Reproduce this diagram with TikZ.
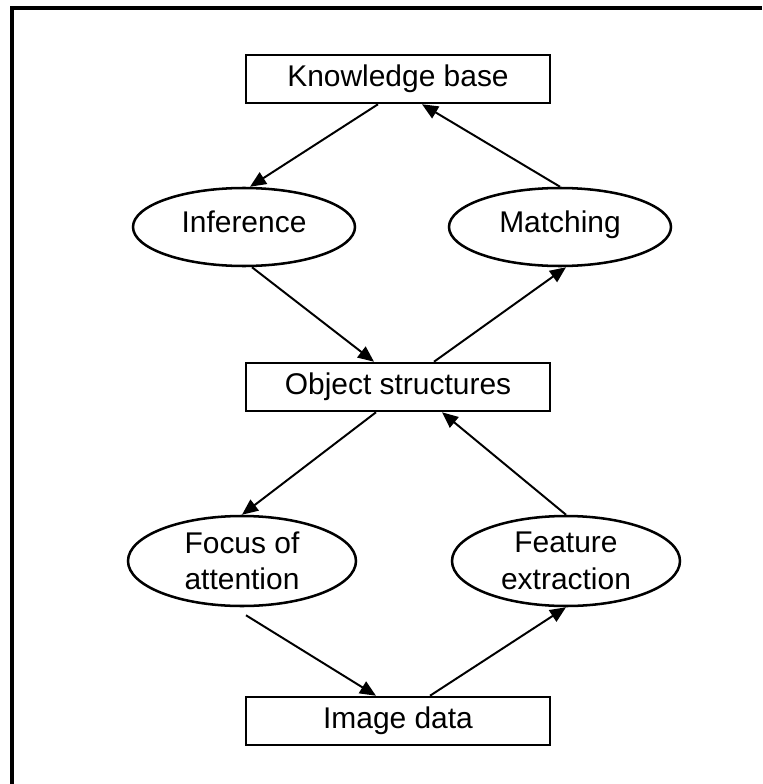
\documentclass[tikz,border=0pt]{standalone}
\usepackage{fontspec}
\setmainfont{Liberation Sans}
\usetikzlibrary{shapes.geometric,arrows.meta}

\tikzstyle{block}=[rectangle, minimum width = 7.6cm, minimum height = 1.2cm, text centered, draw=black, line width=1.8pt, fill=white, font=\fontsize{21.3}{26}\selectfont]
\tikzstyle{oval}=[ellipse, minimum width = 5.55cm, minimum height = 1.95cm, inner sep=0pt, align=center, draw=black, line width=1.8pt, fill=white, text height=1.5ex, text depth=.1ex, font=\fontsize{21.3}{26}\selectfont]
\tikzstyle{ovaltwo}=[oval, minimum width = 5.7cm, minimum height = 2.25cm, text height=, text depth=]
\tikzstyle{arrowline} = [line width=1.4pt,->,>={Triangle[length=4mm,width=3.4mm]}]

\begin{document}
\begin{tikzpicture}[node distance = 3.7cm]
\useasboundingbox (-9.95,1.975) rectangle (9.1,-17.625);
\draw[line width=3.5pt] (9.1,1.775) -| (-9.65,-17.625);
\node (kb) [block] {Knowledge base};
\node (inf) [oval, below of = kb, xshift = -3.85cm] {Inference};
\node (mat) [oval, below of = kb, xshift = 4.05cm] {Matching};
\node (os) [block, below of = kb, yshift = -4cm] {Object structures};
\node (foc) [ovaltwo, below of = os, xshift = -3.9cm, yshift = -0.65cm] {Focus of\\attention};
\node (fea) [ovaltwo, below of = os, xshift = 4.2cm, yshift = -0.65cm] {Feature\\extraction};
\node (id) [block, below of = os, yshift = -4.65cm] {Image data};
\draw[arrowline]([xshift=-0.5cm]kb.south)--([xshift=0.15cm]inf.north);
\draw[arrowline](mat.north)--([xshift=0.6cm]kb.south);
\draw[arrowline]([xshift=0.2cm]inf.south)--([xshift=-0.6cm]os.north);
\draw[arrowline]([xshift=0.9cm]os.north)--([xshift=0.15cm]mat.south);
\draw[arrowline]([xshift=-0.55cm]os.south)--(foc.north);
\draw[arrowline](fea.north)--([xshift=1.1cm]os.south);
\draw[arrowline]([shift={(0.1cm,-0.2cm)}]foc.south)--([xshift=-0.55cm]id.north);
\draw[arrowline]([xshift=0.8cm]id.north)--(fea.south);
\end{tikzpicture}
\end{document}
